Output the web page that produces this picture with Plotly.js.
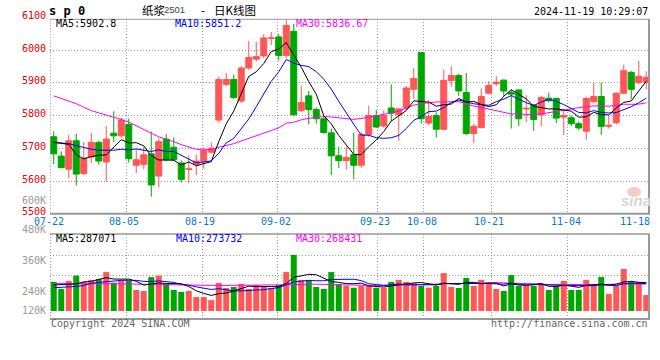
<!DOCTYPE html>
<html><head><meta charset="utf-8">
<script src="https://cdn.plot.ly/plotly-3.0.1.min.js"></script>
<style>html,body{margin:0;padding:0;background:#fff;}#chart{width:660px;height:360px;}</style>
</head><body><div id="chart"></div>
<script>
// ---------- data ----------
const dates = ['07-22','07-23','07-24','07-25','07-26','07-29','07-30','07-31','08-01','08-02','08-05','08-06','08-07','08-08','08-09','08-12','08-13','08-14','08-15','08-16','08-19','08-20','08-21','08-22','08-23','08-26','08-27','08-28','08-29','08-30','09-02','09-03','09-04','09-05','09-06','09-09','09-10','09-11','09-12','09-13','09-18','09-19','09-20','09-23','09-24','09-25','09-26','09-27','09-30','10-08','10-09','10-10','10-11','10-14','10-15','10-16','10-17','10-18','10-21','10-22','10-23','10-24','10-25','10-28','10-29','10-30','10-31','11-01','11-04','11-05','11-06','11-07','11-08','11-11','11-12','11-13','11-14','11-15','11-18','11-19'];
const opens = [5735,5676,5636,5723,5623,5673,5718,5658,5746,5738, 5773,5648,5651,5683,5615,5728,5703,5655,5635,5651, 5660,5688,5786,5895,5910,5844,5945,5972,5982,6035, 6040,5983,6057,5815,5860,5818,5790,5747,5677,5662, 5680,5648,5742,5800,5768,5823,5802,5823,5880,5992, 5777,5800,5758,5907,5922,5870,5745,5763,5868,5897, 5908,5870,5878,5820,5832,5802,5853,5852,5795,5793, 5775,5752,5842,5858,5767,5778,5868,5932,5900,5902];
const highs = [5751,5690,5740,5745,5720,5747,5722,5768,5813,5793, 5791,5698,5703,5751,5730,5743,5733,5663,5678,5681, 5703,5718,5918,5930,5925,5952,6028,6025,6048,6055, 6048,6095,6080,5890,5875,5825,5795,5760,5705,5705, 5748,5750,5830,5817,5815,5895,5823,5890,5945,5992, 5848,5810,5940,5950,5928,5930,5775,5883,5905,5920, 5910,5880,5880,5862,5835,5860,5870,5855,5817,5800, 5782,5858,5900,5900,5800,5870,5955,5935,5967,5935];
const lows = [5651,5638,5608,5586,5618,5655,5650,5598,5718,5732, 5656,5625,5636,5552,5580,5660,5660,5595,5593,5618, 5638,5684,5778,5890,5850,5838,5940,5965,5975,6015, 5968,5975,5798,5810,5773,5775,5745,5618,5640,5635, 5605,5640,5735,5762,5762,5783,5723,5815,5850,5775, 5770,5733,5755,5888,5860,5740,5715,5760,5865,5890, 5860,5760,5768,5780,5753,5767,5840,5777,5740,5768, 5755,5726,5838,5740,5760,5772,5865,5850,5895,5880];
const closes = [5683,5641,5723,5621,5670,5718,5661,5728,5738,5786, 5668,5665,5680,5588,5720,5665,5665,5605,5637,5661, 5693,5700,5910,5910,5855,5945,5977,5980,6037,6037, 5983,6075,5802,5840,5818,5790,5748,5677,5662,5672, 5648,5742,5800,5765,5800,5807,5820,5884,5913,5790, 5797,5758,5907,5922,5875,5745,5767,5858,5892,5902, 5875,5865,5790,5822,5788,5855,5845,5792,5800,5775, 5762,5852,5858,5767,5770,5868,5937,5880,5920,5917];
const ma5 = [5718,5716,5712,5680,5667.6,5674.6,5678.6,5679.6,5703,5726.2, 5716.2,5717,5707.4,5677.4,5664.2,5663.6,5663.6,5648.6,5658.4,5646.6, 5652.2,5659.2,5720.2,5774.8,5813.6,5864,5919.4,5933.4,5958.8,5995.2, 6002.8,6022.4,5986.8,5947.4,5903.6,5865,5799.6,5774.6,5739,5709.8, 5681.4,5680.2,5704.8,5725.4,5751,5782.8,5798.4,5815.2,5844.8,5842.8, 5840.8,5828.4,5833,5834.8,5851.8,5841.4,5843.2,5833.4,5827.4,5832.8, 5858.8,5878.4,5864.8,5850.8,5828,5824,5820,5820.4,5816,5813.4, 5794.8,5796.2,5809.4,5802.8,5801.8,5823,5840,5844.4,5875,5904.4];
const ma10 = [5718,5716,5714,5708,5702,5697,5694,5693,5694,5696.9, 5695.4,5697.8,5693.5,5690.2,5695.2,5689.9,5690.3,5678,5667.9,5655.4, 5657.9,5661.4,5684.4,5716.6,5730.1,5758.1,5789.3,5826.8,5866.8,5904.4, 5933.4,5970.9,5960.1,5953.1,5949.4,5933.9,5911,5880.7,5843.2,5806.7, 5773.2,5739.9,5739.7,5732.2,5730.4,5732.1,5739.3,5760,5785.1,5796.9, 5811.8,5813.4,5824.1,5839.8,5847.3,5841.1,5835.8,5833.2,5831.1,5842.3, 5850.1,5860.8,5849.1,5839.1,5830.4,5841.4,5849.2,5842.6,5833.4,5820.7, 5809.4,5808.1,5814.9,5809.4,5807.6,5808.9,5818.1,5826.9,5838.9,5853.1];
const ma30 = [5860,5852,5844,5836,5825,5815,5808,5802,5795,5788, 5780,5768,5757,5746,5735,5728,5720,5711,5703,5697, 5695,5697,5703,5708,5714,5722,5730,5738,5746,5752.2, 5762.2,5776.7,5779.3,5786.6,5791.6,5794,5796.9,5795.2,5792.6,5788.8, 5788.2,5790.7,5794.7,5800.6,5803.3,5808,5813.2,5822.5,5831.7,5836, 5839.5,5841.4,5841.3,5841.7,5842.4,5835.7,5828.7,5824.6,5819.8,5815.3, 5811.7,5804.7,5804.3,5803.7,5802.7,5804.9,5808.1,5811.9,5816.5,5820, 5823.8,5827.4,5829.4,5829.4,5828.4,5830.5,5834.4,5834.2,5834.5,5838.7];
// volume, in thousands of lots
const volumes = [276,248,280,301,276,284,288,315,273,280, 280,244,240,295,301,268,244,236,240,216, 216,204,272,252,256,268,248,264,256,252, 264,315,383,284,284,256,248,315,268,260, 253,260,260,253,253,276,284,276,271,260, 253,260,311,256,252,292,260,284,268,248, 240,303,260,260,260,268,244,260,280,244, 244,284,268,295,228,260,327,280,276,224];
const volMa5 = [264,266,267,268,276.2,277.8,285.8,292.8,287.2,288, 287.2,278.4,263.4,267.8,272,269.6,269.6,268.8,257.8,240.8, 230.4,222.4,229.6,232,240,250.4,259.2,257.6,258.4,257.6, 256.8,270.2,294,299.6,306,304.4,291,277.4,274.2,269.4, 268.8,271.2,260.2,257.2,255.8,260.4,265.2,268.4,272,273.4, 268.8,264,271,268,266.4,274.2,274.2,268.8,271.2,270.4, 260,268.6,263.8,262.2,264.6,270.2,258.4,258.4,262.4,259.2, 254.4,262.4,264,267,263.8,267,275.6,278,274.2,273.4];
const volMa10 = [253,254,256,258,262,270,274,277,280,282.1, 282.5,282.1,278.1,277.5,280,278.4,274,266.1,262.8,256.4, 250,246,249.2,244.9,240.4,240.4,240.8,243.6,245.2,248.8, 253.6,264.7,275.8,279,281.8,280.6,280.6,285.7,286.9,287.7, 286.6,281.1,268.8,265.7,262.6,264.6,268.2,264.3,264.6,264.6, 264.6,264.6,269.7,270,269.9,271.5,269.1,269.9,269.6,268.4, 267.1,271.4,266.3,266.7,267.5,265.1,263.5,261.1,262.3,261.9, 262.3,260.4,261.2,264.7,261.5,260.7,269,271,270.6,268.6];
const volMa30 = [270,270,270,270,270,270,270,270,269,269, 268,267,267,267,266,266,265,264,263,263, 262,262,262,262,262,262,262,262,262,262.4, 263,264,265,266,267.4,267,266,265,265,264.3, 263,262.5,262,261.8,261.6,262.5,263.5,264.5,266,267, 268,269,270,271,271.4,272,272.5,273,273.5,273.6, 272,270.5,269,268,266.7,266.3,266,265.6,265.3,265, 265.2,265.5,265.8,266,266.3,266.5,267,267.3,267.6,268];
const priceTicks = [6100,6000,5900,5800,5700,5600,5500];
const volTickLabels = ['600K','480K','360K','240K','120K'];
const dateTickLabels = ['07-22','08-05','08-19','09-02','09-23','10-08','10-21','11-04','11-18'];
const priceLegend = ['MA5:5902.8','MA10:5851.2','MA30:5836.67'];
const volLegend = ['MA5:287071','MA10:273732','MA30:268431'];

// ---------- styling / layout ----------
const W = 660, H = 360;
const RED = '#ff5656', GREEN = '#00a600';
const MONO = 'DejaVu Sans Mono, Liberation Mono, monospace';
const CJK = 'Noto Sans CJK SC, sans-serif';
const X0 = 50, X1 = 650;          // plot left / right in px
const PY_TOP = 19.3, PY_BOT = 213.75, P_MIN = 5500, P_PX = 0.3275; // price panel
const VY_TOP = 234, VY_BOT = 319;  // volume panel
const VOL_REF = 240, VOL_REF_Y = 291, VOL_PX = 30.3 / 120; // 240K at y=291, px per K
const vAt = y => VOL_REF + (VOL_REF_Y - y) / VOL_PX;
const VOL_BASE = vAt(311);
const fx = px => px / W, fy = py => 1 - py / H;
const idx = dates.map((d, i) => i);
const gridX = [126, 202, 277, 377, 423, 491, 567].map(p => (p - 53.75) / 7.5);
const dateLabelX = [49.2, 124, 200, 276, 375.3, 421.7, 489.3, 565.5, 634.7];
const volLabelY = [200, 229.7, 260.7, 291, 310.7];

const traces = [
  {type:'candlestick', x: idx, open: opens, high: highs, low: lows, close: closes, xaxis:'x', yaxis:'y',
   increasing:{line:{color:RED, width:1}, fillcolor:RED}, decreasing:{line:{color:GREEN, width:1}, fillcolor:GREEN},
   whiskerwidth:0, hoverinfo:'skip'},
  {type:'scatter', mode:'lines', x: idx, y: ma30, line:{color:'#ff00ff', width:1}, xaxis:'x', yaxis:'y', hoverinfo:'skip'},
  {type:'scatter', mode:'lines', x: idx, y: ma10, line:{color:'#0000ff', width:1}, xaxis:'x', yaxis:'y', hoverinfo:'skip'},
  {type:'scatter', mode:'lines', x: idx, y: ma5, line:{color:'#000000', width:1}, xaxis:'x', yaxis:'y', hoverinfo:'skip'},
  {type:'bar', x: idx, y: volumes.map(v => v - VOL_BASE), base: VOL_BASE, width: 0.8,
   marker:{color: closes.map((c, i) => c >= opens[i] ? RED : GREEN), line:{width:0}}, xaxis:'x2', yaxis:'y2', hoverinfo:'skip'},
  {type:'scatter', mode:'lines', x: idx, y: volMa30, line:{color:'#ff00ff', width:1}, xaxis:'x2', yaxis:'y2', hoverinfo:'skip'},
  {type:'scatter', mode:'lines', x: idx, y: volMa10, line:{color:'#0000ff', width:1}, xaxis:'x2', yaxis:'y2', hoverinfo:'skip'},
  {type:'scatter', mode:'lines', x: idx, y: volMa5, line:{color:'#000000', width:1}, xaxis:'x2', yaxis:'y2', hoverinfo:'skip'}
];

function lab(text, xPx, yPx, color, size, anchor, family) {
  return {text, x: fx(xPx), y: fy(yPx), xref:'paper', yref:'paper', showarrow:false,
    xanchor: anchor || 'left', yanchor:'middle', borderpad:0,
    font:{family: family || MONO, size: size || 10, color}};
}
const ann = [];
priceTicks.forEach(v => ann.push(lab(String(v), 46.5, PY_BOT - (v - P_MIN) * P_PX - 1.8, '#e00000', 10, 'right')));
volTickLabels.forEach((t, k) => ann.push(lab(t, 46.5, volLabelY[k], '#9a9a9a', 10, 'right')));
dateTickLabels.forEach((t, k) => ann.push(lab(t, dateLabelX[k], 221.7, '#0a78c8', 10, 'center')));
ann.push(lab('<b>s p 0</b>', 48, 10.5, '#000', 12, 'left'));
ann.push(lab('纸浆', 140.5, 9.5, '#000', 11.5, 'left', CJK));
ann.push(lab('2501', 163, 9.8, '#444', 9.5, 'left', 'Liberation Sans, sans-serif'));
ann.push(lab('-', 202.5, 9.5, '#000', 12, 'center', CJK));
ann.push(lab('日K线图', 212.5, 9.5, '#000', 11.5, 'left', CJK));
ann.push(lab('2024-11-19 10:29:07', 649, 11.7, '#000', 10, 'right'));
const legColors = ['#000000', '#0000ff', '#ff00ff'];
const legX = [55, 174, 295];
priceLegend.forEach((t, k) => ann.push(lab(t, legX[k], 24, legColors[k], 10, 'left')));
volLegend.forEach((t, k) => ann.push(lab(t, legX[k] + (k === 1 ? 1 : 0), 238.5, legColors[k], 10, 'left')));
ann.push(lab('Copyright 2024 SINA.COM', 50, 323.5, '#666', 10, 'left'));
ann.push(lab('http://finance.sina.com.cn', 649, 323.5, '#666', 10, 'right'));
ann.push(lab('<b><i>sina</i></b>', 636, 200, '#d6d6d6', 15, 'center', 'Liberation Sans, sans-serif'));

function hline(x0, x1, y, color, width, dash) {
  return {type:'line', xref:'paper', yref:'paper', x0: fx(x0), x1: fx(x1), y0: fy(y), y1: fy(y), line:{color, width, dash: dash || 'solid'}};
}
function vline(x, y0, y1, color, width, dash) {
  return {type:'line', xref:'paper', yref:'paper', x0: fx(x), x1: fx(x), y0: fy(y0), y1: fy(y1), line:{color, width, dash: dash || 'solid'}};
}
const shapes = [
  hline(50, 650, PY_TOP, '#999', 1), hline(50, 650, 213.8, '#999', 2),
  vline(649, PY_TOP, 214.5, '#999', 2), vline(50.5, PY_TOP, 213, '#999', 1, '1px,2px'),
  hline(50, 650, VY_TOP, '#999', 1.5), hline(50, 650, VY_BOT, '#999', 2),
  vline(649, VY_TOP, 320, '#999', 2), vline(50.5, VY_TOP, 318, '#999', 1, '1px,2px'),
  {type:'circle', xref:'paper', yref:'paper', x0: fx(627), x1: fx(641), y0: fy(197), y1: fy(187), fillcolor:'#f6caca', line:{width:0}, layer:'below'}
];

const axBase = {showticklabels:false, ticks:'', zeroline:false, showline:false, fixedrange:true,
  showgrid:true, gridcolor:'#9a9a9a', gridwidth:1, griddash:'1px,2px', tickmode:'array'};
const layout = {
  width: W, height: H, margin:{l:0, r:0, t:0, b:0}, paper_bgcolor:'#fff', plot_bgcolor:'rgba(0,0,0,0)',
  showlegend:false, hovermode:false, boxgap:0.2, boxgroupgap:0, bargap:0.2,
  xaxis: Object.assign({}, axBase, {domain:[fx(X0), fx(X1)], range:[-0.5, 79.5], anchor:'y', tickvals: gridX, rangeslider:{visible:false}}),
  yaxis: Object.assign({}, axBase, {domain:[fy(PY_BOT), fy(PY_TOP)], range:[P_MIN, P_MIN + (PY_BOT - PY_TOP) / P_PX], anchor:'x', tickvals:[5600,5700,5800,5900,6000]}),
  xaxis2: Object.assign({}, axBase, {domain:[fx(X0), fx(X1)], range:[-0.5, 79.5], anchor:'y2', tickvals: gridX}),
  yaxis2: Object.assign({}, axBase, {domain:[fy(VY_BOT), fy(VY_TOP)], range:[vAt(VY_BOT), vAt(VY_TOP)], anchor:'x2', tickvals:[vAt(255.7), vAt(275.2)]}),
  annotations: ann, shapes
};
Plotly.newPlot('chart', traces, layout, {displayModeBar:false, staticPlot:true});
</script></body></html>
